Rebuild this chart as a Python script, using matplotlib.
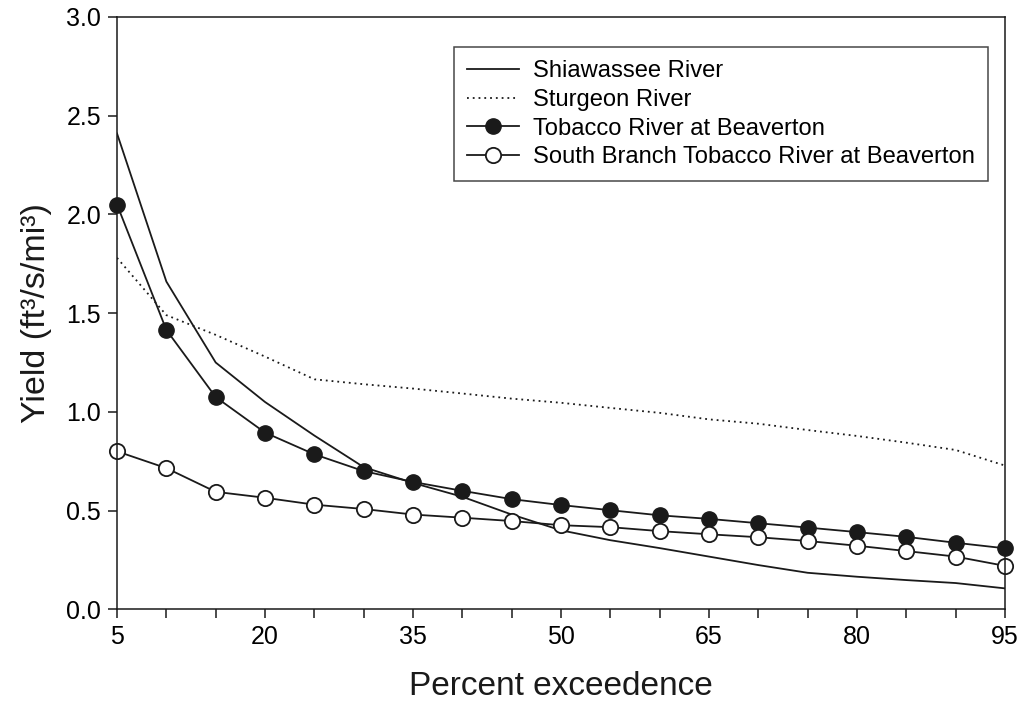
import numpy as np
import matplotlib
matplotlib.use("Agg")
import matplotlib.pyplot as plt
from matplotlib.ticker import FixedLocator, MultipleLocator, FormatStrFormatter

plt.rcParams['font.family'] = ['Liberation Sans', 'DejaVu Sans']

# flow-duration yields, percent exceedence 5..95
exceedence = [5, 10, 15, 20, 25, 30, 35, 40, 45, 50, 55, 60, 65, 70, 75, 80, 85, 90, 95]

shiawassee = [2.41, 1.66, 1.25, 1.05, 0.88, 0.72, 0.64, 0.57, 0.48, 0.40, 0.35, 0.31,
              0.267, 0.224, 0.185, 0.165, 0.148, 0.133, 0.106]
sturgeon = [1.78, 1.49, 1.39, 1.28, 1.165, 1.14, 1.118, 1.093, 1.067, 1.046, 1.02, 0.995,
            0.962, 0.94, 0.908, 0.878, 0.844, 0.807, 0.728]
tobacco = [2.05, 1.415, 1.075, 0.895, 0.785, 0.70, 0.645, 0.60, 0.558, 0.528, 0.502, 0.476,
           0.458, 0.436, 0.414, 0.391, 0.367, 0.337, 0.309]
south_branch = [0.80, 0.715, 0.595, 0.565, 0.53, 0.508, 0.48, 0.464, 0.447, 0.426, 0.416, 0.396,
                0.38, 0.365, 0.346, 0.322, 0.295, 0.267, 0.22]

x_labelled = [5, 20, 35, 50, 65, 80, 95]

labels = ["Shiawassee River", "Sturgeon River", "Tobacco River at Beaverton",
          "South Branch Tobacco River at Beaverton"]

ink = '#1a1a1a'

fig = plt.figure(figsize=(10.23, 7.08), dpi=100)
ax = fig.add_axes([0.1144, 0.1394, 0.868, 0.8366])

ax.plot(exceedence, shiawassee, color=ink, lw=1.3, label=labels[0])
ax.plot(exceedence, sturgeon, color=ink, lw=1.3, linestyle=(0, (1, 2.2)), label=labels[1])
ax.plot(exceedence, tobacco, color=ink, lw=1.3, marker='o', markersize=11,
        markerfacecolor=ink, markeredgecolor=ink, label=labels[2], clip_on=False)
ax.plot(exceedence, south_branch, color=ink, lw=1.3, marker='o', markersize=11,
        markerfacecolor='white', markeredgecolor=ink, markeredgewidth=1.3,
        label=labels[3], clip_on=False)

ax.set_xlim(5, 95)
ax.set_ylim(0, 3.0)
ax.xaxis.set_major_locator(FixedLocator(x_labelled))
ax.xaxis.set_minor_locator(MultipleLocator(5))
ax.yaxis.set_major_locator(MultipleLocator(0.5))
ax.yaxis.set_major_formatter(FormatStrFormatter('%.1f'))

ax.tick_params(which='both', direction='out', length=6.5, width=1.1, color=ink,
               labelsize=18, pad=5, top=False, right=False)
for s in ax.spines.values():
    s.set_linewidth(1.1)
    s.set_color(ink)

ax.set_xlabel("Percent exceedence", fontsize=24, labelpad=16, color=ink)
ax.set_ylabel("Yield (ft³/s/mi³)", fontsize=24.5, labelpad=10, color=ink)

leg = ax.legend(loc='upper right', bbox_to_anchor=(0.981, 0.949), fontsize=17.1,
                frameon=True, fancybox=False, edgecolor=ink, handlelength=2.2,
                handletextpad=0.6, labelspacing=0.28, borderpad=0.55, borderaxespad=0)
leg.get_frame().set_linewidth(1.1)

fig.savefig("out.png", dpi=100)
